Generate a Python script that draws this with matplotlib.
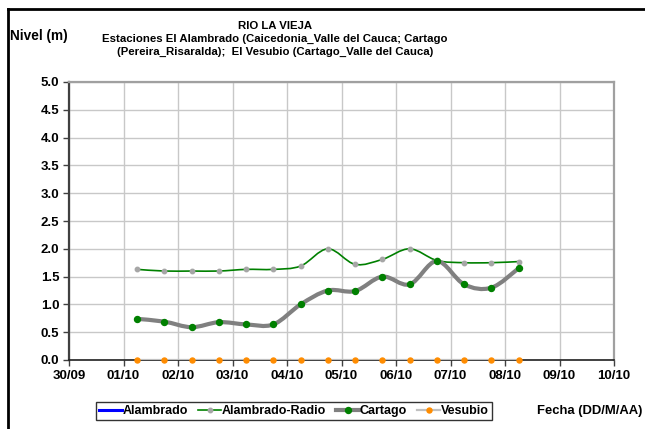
import numpy as np
import pandas as pd
import matplotlib
matplotlib.use("Agg")
import matplotlib.pyplot as plt
import matplotlib.dates as mdates
from matplotlib.path import Path
from matplotlib.patches import PathPatch
from matplotlib.lines import Line2D

plt.rcParams['font.family'] = ['Liberation Sans', 'DejaVu Sans']
plt.rcParams['font.weight'] = 'bold'

# Observation times (two readings a day)
fechas = pd.to_datetime([
    "2011-10-01 06:00", "2011-10-01 18:00",
    "2011-10-02 06:00", "2011-10-02 18:00",
    "2011-10-03 06:00", "2011-10-03 18:00",
    "2011-10-04 06:00", "2011-10-04 18:00",
    "2011-10-05 06:00", "2011-10-05 18:00",
    "2011-10-06 06:00", "2011-10-06 18:00",
    "2011-10-07 06:00", "2011-10-07 18:00",
    "2011-10-08 06:00",
])

# Water level (m) by station
alambrado = []
alambrado_radio = [1.63, 1.60, 1.60, 1.60, 1.63, 1.63, 1.69, 2.00,
                   1.72, 1.81, 2.00, 1.79, 1.75, 1.75, 1.77]
cartago = [0.74, 0.69, 0.59, 0.68, 0.64, 0.64, 1.00, 1.25,
           1.24, 1.50, 1.36, 1.78, 1.36, 1.30, 1.65]
vesubio = [0.0, 0.0, 0.0, 0.0, 0.0, 0.0, 0.0, 0.0,
           0.0, 0.0, 0.0, 0.0, 0.0, 0.0, 0.0]

x_ticks = pd.date_range("2011-09-30", "2011-10-10", freq="D")
y_ticks = [0.0, 0.5, 1.0, 1.5, 2.0, 2.5, 3.0, 3.5, 4.0, 4.5, 5.0]


def smooth_path(x, y):
    """Cubic Bezier path through the points (spreadsheet-style smoothing)."""
    x = np.asarray(x, float)
    y = np.asarray(y, float)
    n = len(x)
    verts = [(x[0], y[0])]
    codes = [Path.MOVETO]
    for i in range(n - 1):
        p0 = np.array([x[max(i - 1, 0)], y[max(i - 1, 0)]])
        p1 = np.array([x[i], y[i]])
        p2 = np.array([x[i + 1], y[i + 1]])
        p3 = np.array([x[min(i + 2, n - 1)], y[min(i + 2, n - 1)]])
        c1 = p1 + (p2 - p0) / 6.0
        c2 = p2 - (p3 - p1) / 6.0
        verts += [tuple(c1), tuple(c2), tuple(p2)]
        codes += [Path.CURVE4] * 3
    return Path(verts, codes)


fig = plt.figure(figsize=(6.45, 4.29), dpi=100)
ax = fig.add_axes([69 / 645, 1 - 360 / 429, (614 - 69) / 645, (360 - 82) / 429])

xn = mdates.date2num(fechas)

series = [
    ("Alambrado", alambrado, dict(color="#0000FF", lw=2.2), None),
    ("Alambrado-Radio", alambrado_radio, dict(color="#008000", lw=1.2),
     dict(color="#A6A6A6", ms=3.2)),
    ("Cartago", cartago, dict(color="#808080", lw=3.0),
     dict(color="#008000", ms=4.3)),
    ("Vesubio", vesubio, dict(color="#C0C0C0", lw=1.6),
     dict(color="#FF8C00", ms=3.6)),
]

handles = []
for z, (name, vals, ls, mk) in enumerate(series):
    if len(vals) > 0:
        patch = PathPatch(smooth_path(xn, vals), facecolor="none",
                          edgecolor=ls["color"], lw=ls["lw"],
                          zorder=3 + z, capstyle="round", joinstyle="round")
        ax.add_patch(patch)
        if mk is not None:
            ax.plot(xn, vals, linestyle="none", marker="o", ms=mk["ms"],
                    mfc=mk["color"], mec=mk["color"], zorder=3.5 + z,
                    clip_on=False)
    handles.append(Line2D([], [], color=ls["color"], lw=ls["lw"],
                          marker="o" if mk else None,
                          ms=mk["ms"] if mk else 0,
                          mfc=mk["color"] if mk else None,
                          mec=mk["color"] if mk else None,
                          label=name))

ax.set_xlim(mdates.date2num(x_ticks[0]), mdates.date2num(x_ticks[-1]))
ax.set_ylim(0, 5)
ax.set_xticks(mdates.date2num(x_ticks))
ax.xaxis.set_major_formatter(mdates.DateFormatter("%d/%m"))
ax.set_yticks(y_ticks)
ax.set_yticklabels([f"{v:.1f}" for v in y_ticks])

ax.grid(True, color="#C8C8C8", lw=1.0, zorder=0)
ax.set_axisbelow(True)
ax.tick_params(axis="both", labelsize=9.5, length=4, width=1, color="#404040",
               pad=3)
for lab in ax.get_xticklabels() + ax.get_yticklabels():
    lab.set_fontweight("bold")

ax.spines["left"].set_color("#404040")
ax.spines["left"].set_linewidth(1.6)
ax.spines["bottom"].set_color("#202020")
ax.spines["bottom"].set_linewidth(1.2)
for s in ("top", "right"):
    ax.spines[s].set_color("#A0A0A0")
    ax.spines[s].set_linewidth(1.6)

# Titles and axis captions
title_kw = dict(ha="center", va="center", fontsize=8.2, fontweight="bold")
fig.text(275 / 645, 1 - 26 / 429, "RIO LA VIEJA", **title_kw)
fig.text(275 / 645, 1 - 39 / 429,
         "Estaciones El Alambrado (Caicedonia_Valle del Cauca; Cartago",
         **title_kw)
fig.text(275 / 645, 1 - 52 / 429,
         "(Pereira_Risaralda);  El Vesubio (Cartago_Valle del Cauca)",
         **title_kw)
fig.text(10 / 645, 1 - 36 / 429, "Nivel (m)", ha="left", va="center",
         fontsize=9.8, fontweight="bold")
fig.text(642 / 645, 1 - 411 / 429, "Fecha (DD/M/AA)", ha="right", va="center",
         fontsize=9.4, fontweight="bold")

leg = fig.legend(handles=handles, loc="center", ncol=4,
                 bbox_to_anchor=(294 / 645, 1 - 411 / 429),
                 frameon=True, fancybox=False, edgecolor="#000000",
                 handlelength=1.8, handletextpad=0.1,
                 columnspacing=0.8, borderpad=0.25,
                 prop={"weight": "bold", "size": 9.0})
leg.get_frame().set_linewidth(1.0)

# Chart frame (top and left edges)
fig.add_artist(Line2D([8 / 645, 8 / 645], [0, 1 - 9 / 429], color="black",
                      lw=2, transform=fig.transFigure))
fig.add_artist(Line2D([8 / 645, 1], [1 - 9 / 429, 1 - 9 / 429], color="black",
                      lw=2, transform=fig.transFigure))

fig.savefig("out.png", dpi=100)
